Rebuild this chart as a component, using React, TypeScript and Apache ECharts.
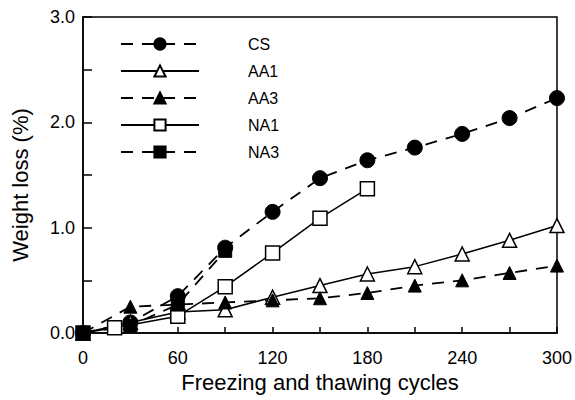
import React, { useEffect, useRef } from "react";
import * as echarts from "echarts";

const cycles = [0, 30, 60, 90, 120, 150, 180, 210, 240, 270, 300];
const csValues = [0, 0.1, 0.35, 0.81, 1.15, 1.47, 1.64, 1.76, 1.89, 2.04, 2.23];
const aa1Values = [0, 0.1, 0.2, 0.22, 0.34, 0.45, 0.56, 0.63, 0.75, 0.88, 1.02];
const aa3Values = [0, 0.25, 0.27, 0.29, 0.31, 0.33, 0.38, 0.45, 0.5, 0.57, 0.64];
const na1Cycles = [0, 20, 60, 90, 120, 150, 180];
const na1Values = [0, 0.05, 0.16, 0.44, 0.76, 1.09, 1.37];
const na3Cycles = [0, 30, 60, 90];
const na3Values = [0, 0.07, 0.27, 0.78];

const pairs = (xs: number[], ys: number[]) => xs.map((x, i) => [x, ys[i]]);

export default function App() {
  const ref = useRef<HTMLDivElement>(null);
  useEffect(() => {
    const chart = echarts.init(ref.current!, null, { renderer: "svg" });
    const font = "Liberation Sans, Arial, sans-serif";
    const dashed = { color: "#000", width: 1.8, type: [12, 9] as any };
    const solid = { color: "#000", width: 1.5, type: "solid" as any };
    const filled = { color: "#000", borderColor: "#000", borderWidth: 1 };
    const open = { color: "#fff", borderColor: "#000", borderWidth: 1.5 };
    const mk = (name: string, data: number[][], symbol: string, size: number, line: any, item: any) => ({
      name,
      type: "line",
      data,
      symbol,
      symbolSize: size,
      showAllSymbol: true,
      lineStyle: line,
      itemStyle: item,
      z: 3,
    });
    chart.setOption({
      animation: false,
      backgroundColor: "#fff",
      grid: {
        left: 83,
        right: 15,
        top: 17,
        bottom: 67,
        show: true,
        borderColor: "#000",
        borderWidth: 1.5,
        backgroundColor: "transparent",
      },
      legend: {
        orient: "vertical",
        left: 120,
        top: 36,
        padding: 0,
        itemWidth: 78,
        itemHeight: 14,
        itemGap: 11,
        textStyle: {
          fontFamily: font,
          fontSize: 16,
          lineHeight: 14,
          color: "#000",
          padding: [0, 0, 0, 44],
        },
        data: ["CS", "AA1", "AA3", "NA1", "NA3"],
      },
      xAxis: {
        type: "value",
        min: 0,
        max: 300,
        interval: 30,
        name: "Freezing and thawing cycles",
        nameLocation: "middle",
        nameGap: 37,
        nameTextStyle: { fontFamily: font, fontSize: 22, color: "#000" },
        axisLine: { lineStyle: { color: "#000", width: 1.5 } },
        axisTick: { inside: true, length: 6, lineStyle: { color: "#000", width: 1.5 } },
        axisLabel: {
          fontFamily: font,
          fontSize: 18,
          color: "#000",
          margin: 16,
          formatter: (v: number) => (v % 60 === 0 ? String(v) : ""),
        },
        splitLine: { show: false },
      },
      yAxis: {
        type: "value",
        min: 0,
        max: 3,
        interval: 0.5,
        name: "Weight loss (%)",
        nameLocation: "middle",
        nameGap: 52,
        nameTextStyle: { fontFamily: font, fontSize: 22, color: "#000", padding: [0, 20, 0, 0] },
        axisLine: { lineStyle: { color: "#000", width: 1.5 } },
        axisTick: { inside: true, length: 9, lineStyle: { color: "#000", width: 1.5 } },
        axisLabel: {
          fontFamily: font,
          fontSize: 18,
          color: "#000",
          margin: 8,
          formatter: (v: number) => (Math.abs(v % 1) < 1e-9 ? v.toFixed(1) : ""),
        },
        splitLine: { show: false },
      },
      series: [
        mk("CS", pairs(cycles, csValues), "circle", 15, dashed, filled),
        mk("AA1", pairs(cycles, aa1Values), "triangle", 14, solid, open),
        mk("AA3", pairs(cycles, aa3Values), "triangle", 13, dashed, filled),
        mk("NA1", pairs(na1Cycles, na1Values), "rect", 14, solid, open),
        mk("NA3", pairs(na3Cycles, na3Values), "rect", 13, dashed, filled),
      ],
    });
    return () => chart.dispose();
  }, []);
  return <div ref={ref} style={{ width: 575, height: 400, position: "absolute", left: 0, top: 0 }} />;
}
